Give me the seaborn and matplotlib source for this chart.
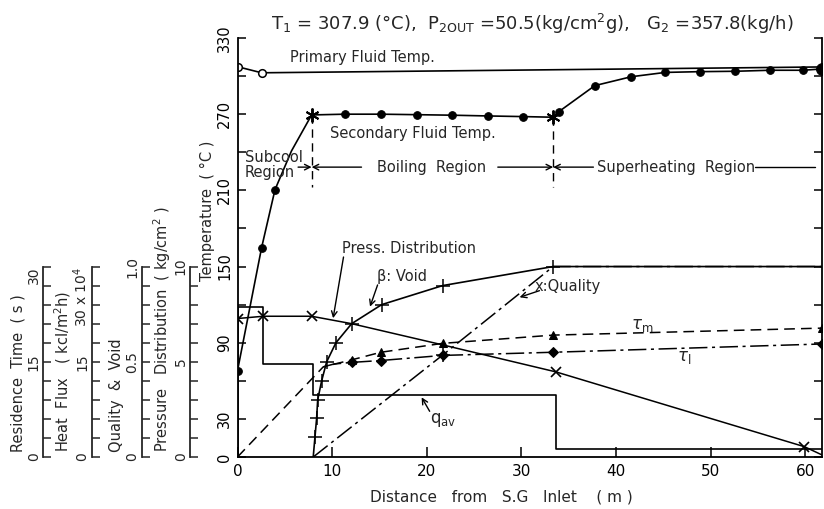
import numpy as np
import pandas as pd
import seaborn as sns
import matplotlib.pyplot as plt

sns.set_style("ticks")
plt.rcParams['font.family'] = ['DejaVu Sans']
plt.rcParams['mathtext.fontset'] = 'dejavusans'

# ---------------- data ----------------
primary_x = [0.0, 2.55, 61.7]
primary_t = [307.4, 302.6, 307.2]

secondary_x = [0.0, 2.55, 3.96, 5.7, 7.83, 11.35, 15.15, 18.99, 22.68, 26.48, 30.2,
               33.35, 33.95, 37.75, 41.6, 45.2, 48.9, 52.6, 56.3, 59.75, 61.7]
secondary_t = [68.0, 165.0, 210.5, 241.0, 269.4, 270.0, 270.0, 269.6, 269.2, 268.6, 268.1,
               267.6, 272.0, 292.5, 299.5, 302.9, 303.5, 303.8, 304.6, 304.6, 305.6]

pressure_x = [0.0, 2.72, 7.83, 12.06, 21.56, 33.63, 59.9, 61.7]
pressure = [7.27, 7.39, 7.39, 7.0, 5.9, 4.47, 0.54, 0.12]          # kg/cm2

void_x = [8.0, 8.18, 8.36, 8.47, 8.89, 9.42, 10.4, 12.06, 15.23, 21.67, 33.35, 61.7]
void = [0.0, 0.103, 0.203, 0.30, 0.40, 0.50, 0.60, 0.70, 0.80, 0.90, 1.0, 1.0]

quality_x = [8.0, 21.67, 33.35, 61.7]
quality = [0.0, 0.535, 1.0, 1.0]

flux_x = [0.0, 0.0, 2.72, 8.0, 33.63, 61.7]
heat_flux = [0.0, 23.6, 14.6, 9.75, 1.2, 1.2]                      # x10^4 kcal/m2h

tau_m_x = [0.0, 9.06, 12.06, 15.15, 21.67, 33.35, 61.7]
tau_m = [0.0, 14.2, 15.3, 16.5, 17.9, 19.2, 20.3]                   # s

tau_l_x = [9.06, 10.2, 12.06, 15.15, 21.67, 33.35, 61.7]
tau_l = [14.2, 14.65, 14.9, 15.2, 16.0, 16.5, 17.8]                # s

boundary_x = [7.83, 33.35]
boundary_top = [269.4, 267.6]
boundary_bottom = 213.0

temp_ticks = list(range(0, 331, 30))
temp_labels = ['0', '30', '', '90', '', '150', '', '210', '', '270', '', '330']
x_ticks = [0, 10, 20, 30, 40, 50, 60]

# ---------------- figure ----------------
W, H = 824, 509
fig = plt.figure(figsize=(W / 100, H / 100), dpi=100)


def fx(px):
    return px / W


def fy(py):
    return 1 - py / H


AX_L, AX_R, AX_T, AX_B = 237.5, 822.0, 38.0, 457.0
ax = fig.add_axes([fx(AX_L), fy(AX_B), (AX_R - AX_L) / W, (AX_B - AX_T) / H])
ax.set_ylim(0, 330)

K = dict(color='black', legend=False, sort=False, estimator=None)


def overlay(ymax):
    o = fig.add_axes(ax.get_position().bounds, sharex=ax)
    o.set_ylim(0, ymax)
    o.axis('off')
    return o


# temperatures
sns.lineplot(x=primary_x, y=primary_t, ax=ax, lw=1.2, marker='o', ms=5.5,
             mfc='white', mec='black', mew=1.1, markevery=[0, 1], **K)
sns.lineplot(x=secondary_x, y=secondary_t, ax=ax, lw=1.2, **K)
circ_idx = [0, 1, 2, 5, 6, 7, 8, 9, 10, 12, 13, 14, 15, 16, 17, 18, 19]
sns.lineplot(x=secondary_x, y=secondary_t, ax=ax, lw=0, marker='o', ms=5.5,
             mfc='black', mec='black', markevery=circ_idx, **K)
sns.lineplot(x=secondary_x, y=secondary_t, ax=ax, lw=0, marker=(6, 2, 0), ms=10,
             mec='black', mew=1.4, markevery=[4, 11], **K)
sns.lineplot(x=secondary_x, y=secondary_t, ax=ax, lw=0, marker='o', ms=8.5,
             mfc='black', mec='black', markevery=[20], **K)

for bx, bt in zip(boundary_x, boundary_top):
    sns.lineplot(x=[bx, bx], y=[bt, boundary_bottom], ax=ax, lw=1.0,
                 linestyle=(0, (6, 4)), **K)

# secondary quantities on scaled overlays (150 deg <-> full scale)
ax_t = overlay(30 * 330 / 150)
sns.lineplot(x=tau_m_x, y=tau_m, ax=ax_t, lw=1.1, linestyle=(0, (7, 4)), marker='^',
             ms=6, mfc='black', mec='black', markevery=[2, 3, 4, 5, 6], **K)
sns.lineplot(x=tau_l_x, y=tau_l, ax=ax_t, lw=1.1, linestyle=(0, (12, 3, 2, 3)), marker='D',
             ms=5, mfc='black', mec='black', markevery=[2, 3, 4, 5, 6], **K)

ax_q = overlay(30 * 330 / 150)
sns.lineplot(x=flux_x, y=heat_flux, ax=ax_q, lw=1.2, drawstyle='steps-post', **K)

ax_v = overlay(1.0 * 330 / 150)
sns.lineplot(x=void_x, y=void, ax=ax_v, lw=1.2, marker='+', ms=10, mec='black', mew=1.1,
             markevery=list(range(1, 11)), **K)
sns.lineplot(x=quality_x, y=quality, ax=ax_v, lw=1.1, linestyle=(0, (12, 3, 2, 3)),
             marker='+', ms=10, mec='black', mew=1.1, markevery=[1], **K)

ax_p = overlay(10 * 330 / 150)
sns.lineplot(x=pressure_x, y=pressure, ax=ax_p, lw=1.1, marker='x', ms=7, mec='black',
             mew=1.2, markevery=[0, 1, 2, 5, 6], **K)

# ---------------- main axis style ----------------
ax.set_xlim(0, 61.75)
ax.set_ylim(0, 330)
for s in ['left', 'bottom', 'right']:
    ax.spines[s].set_linewidth(1.3)
    ax.spines[s].set_color('black')
ax.spines['top'].set_visible(False)
ax.set_yticks(temp_ticks)
ax.set_yticklabels(temp_labels)
ax.set_xticks(x_ticks)
ax.set_xticklabels([str(v) for v in x_ticks])
ax.tick_params(axis='y', direction='in', length=6, width=1.1, left=True, right=True,
               labelleft=True, labelright=False, pad=4, labelsize=10.5, colors='black')
ax.tick_params(axis='x', direction='in', length=7, width=1.1, pad=5, labelsize=11,
               colors='black')
for lab in ax.get_yticklabels():
    lab.set_rotation(90)
    lab.set_va('center')
ax.set_xlabel('')
ax.set_ylabel('')
ax.patch.set_visible(False)

fig.text(fx(501), fy(497), 'Distance   from   S.G   Inlet    ( m )', ha='center', va='center',
         fontsize=11)
fig.text(fx(207), fy(211), 'Temperature  ( °C )', rotation=90, ha='center', va='center',
         fontsize=10.5)
fig.text(fx(532), fy(24),
         r'T$_1$ = 307.9 (°C),  P$_{\mathregular{2OUT}}$ =50.5(kg/cm$^2$g),   '
         r'G$_2$ =357.8(kg/h)', ha='center', va='center', fontsize=13)

# ---------------- left auxiliary scales ----------------
side_specs = [
    (43.0, 30, ['0', '15', '30'], 'Residence  Time  ( s )', 18),
    (91.7, 30, ['0', '15', '30 x 10$^4$'], 'Heat  Flux   ( kcl/m$^2$h)', 63),
    (141.7, 1.0, ['0', '0.5', '1.0'], 'Quality  &  Void', 116),
    (190.0, 10, ['0', '5', '10'], 'Pressure   Distribution  ( kg/cm$^2$ )', 162),
]
for i, (px, top, labs, title, tx) in enumerate(side_specs):
    a = fig.add_axes([fx(px), fy(AX_B), 0.0004, 150 * (AX_B - AX_T) / 330 / H])
    a.set_ylim(0, top)
    a.set_xticks([])
    for s in ['top', 'right', 'bottom']:
        a.spines[s].set_visible(False)
    a.spines['left'].set_linewidth(1.3)
    a.patch.set_visible(False)
    a.set_yticks(np.linspace(0, top, 11))
    tl = [''] * 11
    tl[0], tl[5], tl[10] = labs
    a.set_yticklabels(tl)
    a.tick_params(axis='y', direction='in', length=6, width=1.1, pad=1.5, labelsize=10)
    for j, lab in enumerate(a.get_yticklabels()):
        lab.set_rotation(90)
        lab.set_va('center')
        if j == 10 and i < 2:
            lab.set_va('top')
    fig.text(fx(tx), fy(452), title, rotation=90, ha='center', va='bottom', fontsize=10.5)

# ---------------- annotations ----------------
ax.text(5.5, 315, 'Primary Fluid Temp.', fontsize=10.5, va='center')
ax.text(9.8, 255, 'Secondary Fluid Temp.', fontsize=10.5, va='center')
ax.text(0.75, 230, 'Subcool\nRegion', fontsize=10.5, va='center', linespacing=1.0)

AP = dict(arrowstyle='->', color='black', lw=1.0, shrinkA=0, shrinkB=0)
RY = 228.3
ax.annotate('', xy=(7.83, RY), xytext=(6.4, RY), arrowprops=AP)
ax.annotate('', xy=(7.83, RY), xytext=(13.1, RY), arrowprops=AP)
ax.text(20.5, RY, 'Boiling  Region', fontsize=10.5, ha='center', va='center')
ax.annotate('', xy=(33.35, RY), xytext=(27.5, RY), arrowprops=AP)
ax.annotate('', xy=(33.35, RY), xytext=(37.6, RY), arrowprops=AP)
ax.text(46.3, RY, 'Superheating  Region', fontsize=10.5, ha='center', va='center')
ax.plot([54.7, 61.0], [RY, RY], color='black', lw=1.0)

ax.text(11.0, 164.6, 'Press. Distribution', fontsize=10.5, va='center')
ax.annotate('', xy=(10.1, 109.3), xytext=(11.2, 157.5), arrowprops=AP)
ax.text(14.7, 142.0, 'β: Void', fontsize=10.5, va='center')
ax.annotate('', xy=(14.0, 118.4), xytext=(14.8, 135.5), arrowprops=AP)
ax.text(31.4, 134.0, 'x:Quality', fontsize=10.5, va='center')
ax.annotate('', xy=(29.8, 125.8), xytext=(31.9, 131.0), arrowprops=AP)
ax.text(20.3, 29.0, r'q$_{\mathregular{av}}$', fontsize=12, va='center')
ax.annotate('', xy=(19.45, 47.0), xytext=(20.3, 36.0), arrowprops=AP)
ax.text(41.6, 104.0, r'$\tau_{\mathregular{m}}$', fontsize=12, va='center')
ax.text(46.4, 79.0, r'$\tau_{\mathregular{l}}$', fontsize=12, va='center')

fig.savefig('out.png', dpi=100, facecolor='white')
